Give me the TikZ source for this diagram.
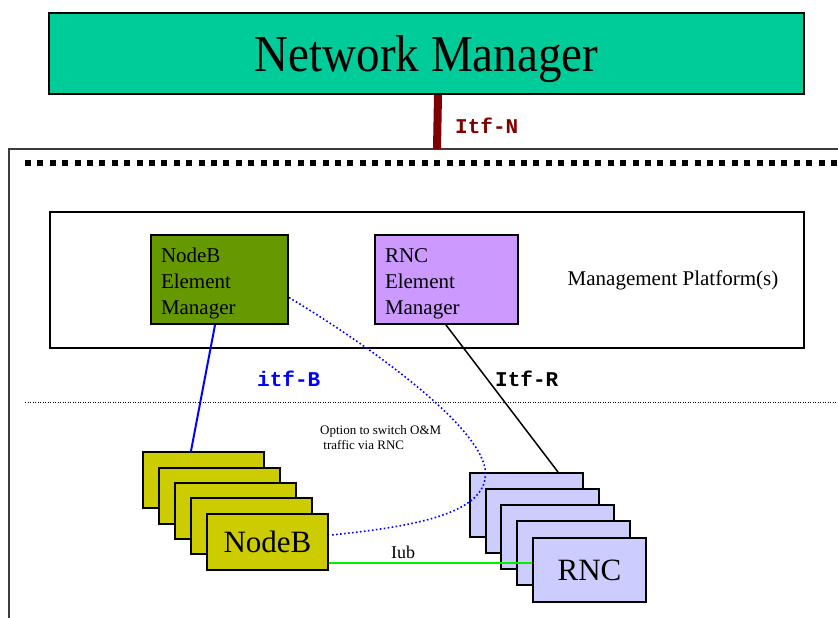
\documentclass[tikz,border=0pt]{standalone}
\usepackage{fontspec}
\setmainfont{Liberation Serif}
\setmonofont{Liberation Mono}
\usetikzlibrary{calc}
\definecolor{nmgreen}{RGB}{0,204,153}
\definecolor{nbemgreen}{RGB}{102,153,0}
\definecolor{rnempurple}{RGB}{204,153,255}
\definecolor{nbyellow}{RGB}{204,204,0}
\definecolor{rncblue}{RGB}{204,204,255}
\definecolor{itfnred}{RGB}{128,0,0}
\definecolor{iubgreen}{RGB}{0,240,0}
\definecolor{outergray}{RGB}{60,60,60}
\begin{document}
\begin{tikzpicture}[x=1pt,y=-1pt,
  box/.style={draw=black,line width=2pt,anchor=north west,inner sep=0pt},
  embox/.style={box,minimum height=89pt,align=left,
     font=\fontsize{21}{26}\selectfont},
  nbbox/.style={box,fill=nbyellow,minimum width=121pt,minimum height=56pt},
  rncbox/.style={box,fill=rncblue,minimum width=113pt,minimum height=64pt},
  itflabel/.style={font=\fontsize{21}{24}\selectfont\ttfamily\bfseries,anchor=west,inner sep=0pt}
]
\useasboundingbox (0,0) rectangle (838,618);
\clip (0,0) rectangle (838,618);
\fill[white] (0,0) rectangle (838,618);

% outer box (cut off at the right and bottom)
\draw[outergray,line width=2pt] (9,640) -- (9,149) -- (860,149);
\coordinate (outtop) at (437,149);

% thick dashed line
\draw[black,line width=6pt,dash pattern=on 6pt off 6.4pt] (25,163) -- (838,163);

% network manager
\node[box,fill=nmgreen,minimum width=755pt,minimum height=81pt,
      font=\fontsize{47}{50}\selectfont] (nm) at (48,12) {\raisebox{-18pt}[0pt][0pt]{\scalebox{1}[1.1]{Network Manager}}};

\draw[itfnred,line width=8pt] ([xshift=11.5pt]nm.south) -- (outtop);
\node[itflabel,text=itfnred] (itfn) at (455,126) {Itf-N};

% management platform
\node[box,minimum width=754pt,minimum height=136pt] (mp) at (49,211) {};
\node[font=\fontsize{21}{24}\selectfont,inner sep=0pt] (mptext) at (673,280) {Management Platform(s)};

\node[embox,fill=nbemgreen,minimum width=137pt,text width=117pt] (nbem) at (150,234) {\rule{0pt}{23pt}NodeB\\Element\\Manager};
\node[embox,fill=rnempurple,minimum width=143pt,text width=123pt] (rnem) at (374,234) {\rule{0pt}{23pt}RNC\\Element\\Manager};

% dotted separator
\draw[black,line width=1pt,dash pattern=on 1pt off 1.5pt] (25,402) -- (838,402);

% NodeB stack
\node[nbbox] (nb1) at (142,451) {};
\node[nbbox] (nb2) at (158,467) {};
\node[nbbox] (nb3) at (174,482) {};
\node[nbbox] (nb4) at (190,497) {};
\node[nbbox,font=\fontsize{31}{34}\selectfont] (nb5) at (206,513) {NodeB};

% RNC stack
\node[rncbox] (rnc1) at (469,472) {};
\node[rncbox] (rnc2) at (485,488) {};
\node[rncbox] (rnc3) at (500,504) {};
\node[rncbox] (rnc4) at (516,520) {};
\node[rncbox,font=\fontsize{31}{34}\selectfont] (rnc5) at (532,537) {RNC};

% connectors
\draw[blue,line width=2pt] ([xshift=-4.5pt]nbem.south) -- ([xshift=-12.5pt]nb1.north);
\node[itflabel,text=blue] (itfb) at (257,379) {itf-B};

\draw[black,line width=1.5pt] ([xshift=-0.5pt]rnem.south) -- ([xshift=31.5pt]rnc1.north);
\node[itflabel,text=black] (itfr) at (495,379) {Itf-R};

\coordinate (iubL) at ($(nb5.south east)+(0,-8)$);
\draw[iubgreen,line width=2pt] (iubL) -- (iubL -| rnc5.west);
\node[font=\fontsize{18}{20}\selectfont,inner sep=0pt] (iub) at (403,552) {Iub};

\draw[blue,line width=1.6pt,dash pattern=on 1.6pt off 2.4pt]
  ([yshift=-18pt]nbem.east) .. controls (360,340) and (475,420) .. (485,468)
  .. controls (492,512) and (420,526) .. ([xshift=2pt,yshift=7pt]nb5.east);

\node[font=\fontsize{13}{15}\selectfont,align=left,inner sep=0pt,anchor=north west] (opt) at (320,425)
  {Option to switch O\&M\\\ traffic via RNC};
\end{tikzpicture}
\end{document}
